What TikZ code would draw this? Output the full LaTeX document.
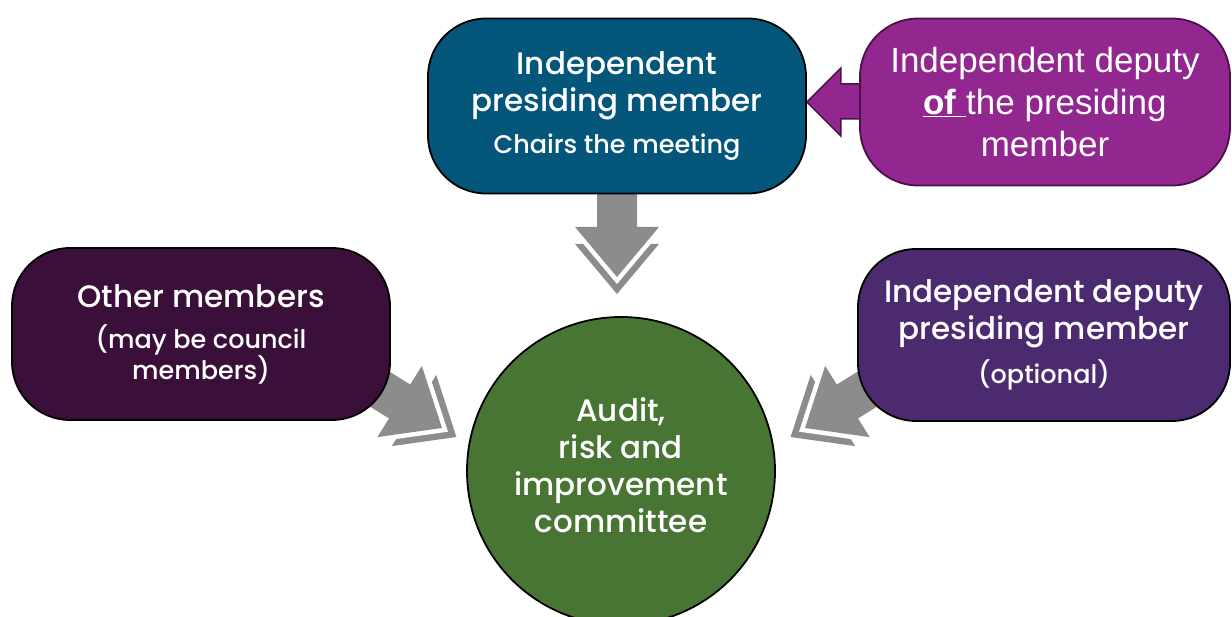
\documentclass[tikz,border=0pt]{standalone}
\usepackage{fontspec}
\setmainfont{Poppins Medium}
\newfontfamily\arialfont{Liberation Sans}

\definecolor{chairblue}{HTML}{05567B}
\definecolor{deputyfill}{HTML}{92278F}
\definecolor{deputyline}{HTML}{4A1048}
\definecolor{otherplum}{HTML}{3A0F3A}
\definecolor{optpurple}{HTML}{4B2A6F}
\definecolor{arigreen}{HTML}{487533}
\definecolor{arrowgray}{HTML}{8C8C8C}

\newcommand{\bigf}{\fontsize{31}{37}\selectfont}
\newcommand{\smallf}{\fontsize{25.5}{30}\selectfont}

% gray block arrow: #1 tip, #2 direction, #3 length
\newcommand{\grayarrow}[3]{%
\begin{scope}[shift={(#1)}, rotate=#2]
\fill[arrowgray] (-33,-42) -- (17,0) -- (-33,42) -- cycle;
\fill[white] (-43,-42) -- (7,0) -- (-43,42) -- cycle;
\fill[arrowgray] (-#3,-20) -- (-50,-20) -- (-50,-42) -- (0,0) -- (-50,42) -- (-50,20) -- (-#3,20) -- cycle;
\end{scope}}

\begin{document}
\begin{tikzpicture}[x=1pt,y=-1pt,
  box/.style={draw, line width=1.8pt, rounded corners=58pt, text=white, align=center,
    minimum width=378pt, minimum height=172pt, font=\bigf}]
\useasboundingbox (0,0) rectangle (1232,617);

\coordinate(downtip) at (617,277);
\coordinate(lefttip) at (442,428);
\coordinate(righttip) at (805,428);
\grayarrow{downtip}{-90}{86}
\grayarrow{lefttip}{-32}{95}
\grayarrow{righttip}{-148}{95}

\node(chair) at (617,106) [box, fill=chairblue, minimum height=175pt]{Independent\\presiding member\\[5pt]\smallf Chairs the meeting};
\node(other) at (201,334) [box, fill=otherplum]{Other members\\[4pt]\smallf (may be council\\[-6pt]\smallf members)};
\node(optional) at (1044,335) [box, fill=optpurple, minimum width=372pt]{Independent deputy\\presiding member\\[7pt]\smallf (optional)};
\node(committee) at (621,471) [draw, circle, line width=1.8pt, fill=arigreen, text=white,
  align=center, minimum size=308pt, font=\bigf]{Audit,\\risk and\\improvement\\committee\\[-26pt]};

\begin{scope}[shift={(chair.east)}]
\filldraw[fill=deputyfill, draw=deputyline, line width=1.5pt] (0,-4) -- (34,-38) -- (34,-22)
  -- (60,-22) -- (60,13) -- (34,13) -- (34,30) -- cycle;
\end{scope}
\node(deputy) at (1045,102) [box, fill=deputyfill, draw=deputyline, minimum width=370pt,
  minimum height=167pt, font=\arialfont\fontsize{35}{42}\selectfont]{Independent deputy\\\underline{\textbf{of}\ }the presiding\\member};
\end{tikzpicture}
\end{document}
